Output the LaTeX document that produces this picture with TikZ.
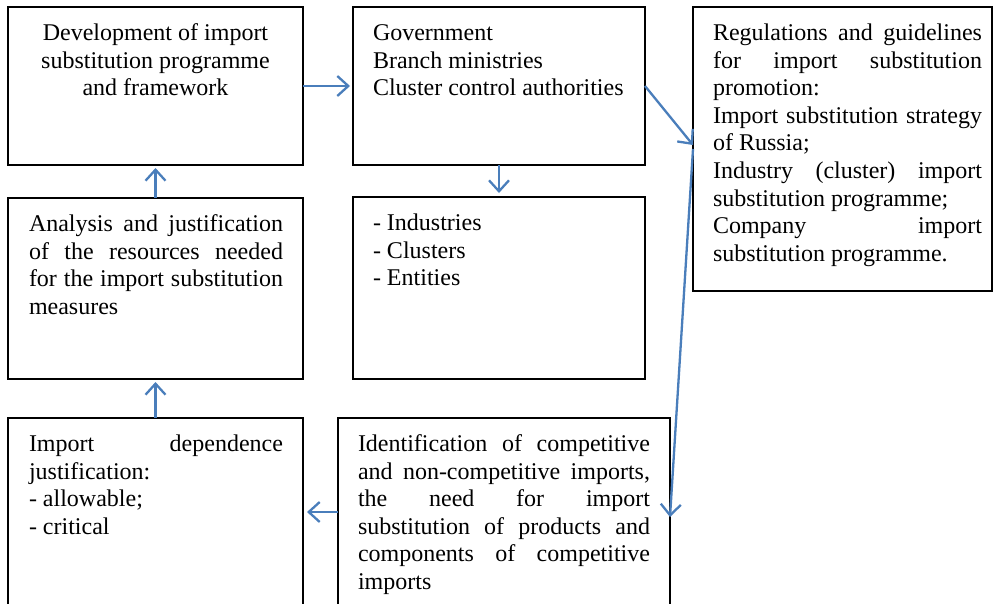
\documentclass[tikz,border=0pt]{standalone}
\usepackage{fontspec}
\setmainfont{Liberation Serif}
\usetikzlibrary{arrows.meta,calc}
\definecolor{arrowblue}{HTML}{4A7EBB}
\newcommand{\jl}[1]{\makebox[\linewidth][s]{#1}\\}
% #1 box width, #2 box height, #3 left margin, #4 text width, #5 text
\newcommand{\boxtxt}[5]{\parbox[c][#2][t]{#1}{\noindent\hspace*{#3}\parbox[t]{#4}{\rule{0pt}{33.5pt}#5}}}
\newcommand{\boxctr}[3]{\parbox[c][#2][t]{#1}{\centering\rule{0pt}{33.5pt}#3\par}}
\begin{document}
\begin{tikzpicture}[x=1pt,y=-1pt,
  box/.style={draw=black, line width=1.1pt, rectangle, inner sep=0pt, outer sep=0pt, anchor=north west,
              font=\fontsize{24}{27.6}\selectfont},
  conn/.style={draw=arrowblue, line width=2.3pt, -{Straight Barb[length=11pt,width=20pt]}}]
\useasboundingbox (0,0) rectangle (993,603);
\fill[white] (0,0) rectangle (993,603);

\node[box] (A) at (8,7) {\boxctr{295pt}{158pt}{Development of import\\substitution programme\\and framework}};
\node[box] (B) at (353,7) {\boxtxt{292pt}{158pt}{20pt}{265pt}{Government\\Branch ministries\\Cluster control authorities}};
\node[box] (C) at (693,7) {\boxtxt{299pt}{284pt}{20pt}{269pt}{%
  \jl{Regulations and guidelines}%
  \jl{for import substitution}%
  promotion:\\
  \jl{Import substitution strategy}%
  of Russia;\\
  \jl{Industry (cluster) import}%
  substitution programme;\\
  \jl{Company import}%
  substitution programme.}};
\node[box] (D) at (8,198) {\boxtxt{295pt}{181pt}{21pt}{254pt}{%
  \jl{Analysis and justification}%
  \jl{of the resources needed}%
  \jl{for the import substitution}%
  measures}};
\node[box] (E) at (353,197) {\boxtxt{292pt}{182pt}{20pt}{265pt}{- Industries\\- Clusters\\- Entities}};
\node[box] (F) at (8,418) {\boxtxt{295pt}{188pt}{21pt}{254pt}{%
  \jl{Import dependence}%
  justification:\\
  - allowable;\\
  - critical}};
\node[box] (G) at (338,418) {\boxtxt{332pt}{198pt}{20pt}{292pt}{%
  \jl{Identification of competitive}%
  \jl{and non-competitive imports,}%
  \jl{the need for import}%
  \jl{substitution of products and}%
  \jl{components of competitive}%
  imports}};

\draw[conn, shorten >=3pt] (A.east) -- (B.west);
\draw[conn] (B.east) -- ([yshift=4pt]C.west);
\draw[conn, shorten >=4pt] (B.south) -- (E.north);
\draw[conn] (C.west) -- (G.east);
\draw[conn, shorten >=4pt] ([yshift=5pt]G.west) -- ([yshift=5pt]G.west -| F.east);
\draw[conn, shorten >=3pt] (F.north) -- (D.south);
\draw[conn, shorten >=3pt] (D.north) -- (A.south);
\end{tikzpicture}
\end{document}
